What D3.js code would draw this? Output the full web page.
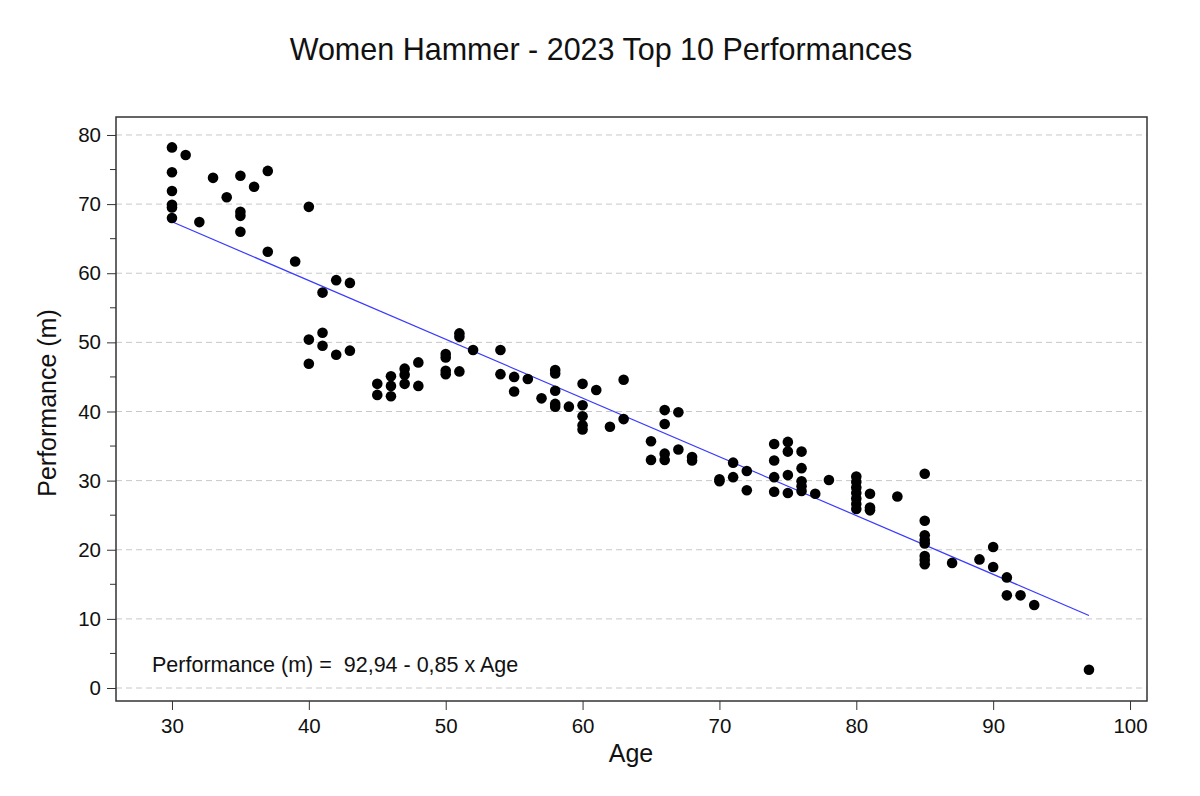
<!DOCTYPE html>
<html>
<head>
<meta charset="utf-8">
<script src="https://cdn.jsdelivr.net/npm/d3@7"></script>
<style>
  body { margin: 0; background: #fff; }
  svg { font-family: "Liberation Sans", Arial, sans-serif; }
</style>
</head>
<body>
<svg id="chart" width="1200" height="796"></svg>
<script>
// ages and performances (m), one entry per point
var ages = [
  30,30,30,30,30,30, 31, 32, 33, 34, 35,35,35,35, 36, 37,37, 39,
  40,40,40, 41,41,41, 42,42, 43,43, 45,45, 46,46,46, 47,47,47, 48,48,
  50,50,50,50, 51,51,51, 52, 54,54, 55,55, 56, 57, 58,58,58,58,58, 59,
  60,60,60,60,60, 61, 62, 63,63, 65,65, 66,66,66,66, 67,67, 68,68,
  70,70, 71,71, 72,72, 74,74,74,74, 75,75,75,75, 76,76,76,76,76, 77, 78,
  80,80,80,80,80,80,80, 81,81,81, 83, 85,85,85,85,85,85,85,85,
  87, 89, 90,90, 91,91, 92, 93, 97
];
var perfs = [
  78.2,74.6,71.9,69.9,69.5,68.0, 77.1, 67.4, 73.8, 71.0, 74.1,68.9,68.3,66.0, 72.5, 74.8,63.1, 61.7,
  69.6,50.4,46.9, 57.2,51.4,49.5, 59.0,48.2, 58.6,48.8, 44.0,42.4, 45.1,43.7,42.2, 46.2,45.3,44.0, 47.1,43.7,
  48.3,47.8,45.9,45.4, 51.3,50.8,45.8, 48.9, 48.9,45.4, 45.0,42.9, 44.7, 41.9, 46.0,45.5,43.0,41.1,40.7, 40.7,
  44.0,40.9,39.3,38.0,37.4, 43.1, 37.8, 44.6,38.9, 35.7,33.0, 40.2,38.2,33.9,33.0, 39.9,34.5, 33.4,32.9,
  30.2,29.9, 32.6,30.5, 31.4,28.6, 35.3,32.9,30.5,28.4, 35.6,34.2,30.8,28.2, 34.2,31.8,29.9,29.2,28.5, 28.1, 30.1,
  30.6,29.8,29.0,28.2,27.4,26.6,25.9, 28.1,26.1,25.7, 27.7, 31.0,24.2,22.1,21.4,20.9,19.1,18.5,17.9,
  18.1, 18.6, 20.4,17.5, 16.0,13.4, 13.4, 12.0, 2.65
];
var xTicks = [30, 40, 50, 60, 70, 80, 90, 100];
var yTicks = [0, 10, 20, 30, 40, 50, 60, 70, 80];
var yMinor = [5, 15, 25, 35, 45, 55, 65, 75];
var fitA = 92.94, fitB = -0.85;

var svg = d3.select("#chart");
var L = 116, T = 117, R = 1147, B = 701;

var x = d3.scaleLinear().domain([25.91, 101.24]).range([L, R]);
var y = d3.scaleLinear().domain([-1.88, 82.6]).range([B, T]);

// grid
svg.append("g").selectAll("line")
  .data(yTicks)
  .enter().append("line")
  .attr("x1", L).attr("x2", R)
  .attr("y1", function(d){ return y(d); })
  .attr("y2", function(d){ return y(d); })
  .style("stroke", "#c8c8c8")
  .style("stroke-width", 1)
  .style("stroke-dasharray", "6,4");

// axes
var xAxis = d3.axisBottom(x).tickValues(xTicks).tickSize(9).tickPadding(8);
var yAxis = d3.axisLeft(y).tickValues(yTicks).tickSize(9).tickPadding(6);

var gx = svg.append("g").attr("transform", "translate(0," + B + ")").call(xAxis);
var gy = svg.append("g").attr("transform", "translate(" + L + ",0)").call(yAxis);
gy.append("g").selectAll("line")
  .data(yMinor)
  .enter().append("line")
  .attr("x1", -6).attr("x2", 0)
  .attr("y1", function(d){ return y(d); })
  .attr("y2", function(d){ return y(d); })
  .style("stroke", "#333");

[gx, gy].forEach(function(g){
  g.select(".domain").remove();
  g.selectAll(".tick line").style("stroke", "#333");
  g.selectAll("text")
    .style("font-size", "20.5px")
    .style("fill", "#111")
    .style("font-family", "'Liberation Sans', Arial, sans-serif");
});

// frame
svg.append("rect")
  .attr("x", L).attr("y", T)
  .attr("width", R - L).attr("height", B - T)
  .style("fill", "none")
  .style("stroke", "#333")
  .style("stroke-width", 1.5);

// fit line
var ageMin = d3.min(ages), ageMax = d3.max(ages);
svg.append("line")
  .attr("x1", x(ageMin)).attr("y1", y(fitA + fitB * ageMin))
  .attr("x2", x(ageMax)).attr("y2", y(fitA + fitB * ageMax))
  .style("stroke", "#3a3aff")
  .style("stroke-width", 1.2);

// points
svg.append("g").selectAll("circle")
  .data(ages)
  .enter().append("circle")
  .attr("cx", function(d){ return x(d); })
  .attr("cy", function(d, i){ return y(perfs[i]); })
  .attr("r", 5.3)
  .style("fill", "#000");

// texts
svg.append("text")
  .attr("x", 601).attr("y", 60)
  .attr("text-anchor", "middle")
  .style("font-size", "30.5px")
  .style("fill", "#111")
  .text("Women Hammer - 2023 Top 10 Performances");

svg.append("text")
  .attr("x", 631).attr("y", 762)
  .attr("text-anchor", "middle")
  .style("font-size", "25px")
  .style("fill", "#111")
  .text("Age");

svg.append("text")
  .attr("transform", "translate(56," + ((T + B) / 2 - 6) + ") rotate(-90)")
  .attr("text-anchor", "middle")
  .style("font-size", "25px")
  .style("fill", "#111")
  .text("Performance (m)");

svg.append("text")
  .attr("x", 152).attr("y", 672)
  .style("font-size", "21.5px")
  .style("fill", "#111")
  .style("white-space", "pre")
  .text("Performance (m) =  92,94 - 0,85 x Age");
</script>
</body>
</html>
